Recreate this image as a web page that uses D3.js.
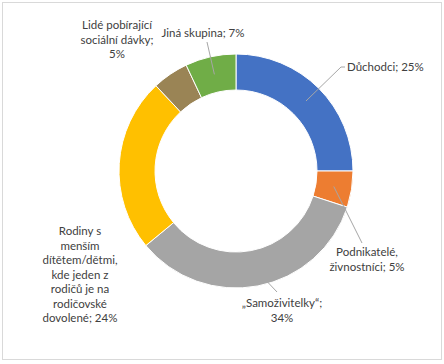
<!DOCTYPE html>
<html>
<head>
<meta charset="utf-8">
<script src="https://cdn.jsdelivr.net/npm/d3@7"></script>
<style>
body { margin: 0; background: #fff; }
text { font-family: Lato, "Noto Sans", sans-serif; font-size: 11.5px; fill: #404040; }
</style>
</head>
<body>
<svg id="chart" width="444" height="364"></svg>
<script>
// data
const categories = ["Důchodci", "Podnikatelé, živnostníci", "„Samoživitelky“",
	"Rodiny s menším dítětem/dětmi, kde jeden z rodičů je na rodičovské dovolené",
	"Lidé pobírající sociální dávky", "Jiná skupina"];
const values = [25, 5, 34, 24, 5, 7];
const colors = ["#4472C4", "#ED7D31", "#A5A5A5", "#FFC000", "#9A8455", "#70AD47"];
const labelLines = [
	["Důchodci; 25%"],
	["Podnikatelé,", "živnostníci; 5%"],
	["„Samoživitelky“;", "34%"],
	["Rodiny s", "menším", "dítětem/dětmi,", "kde jeden z", "rodičů je na", "rodičovské", "dovolené; 24%"],
	["Lidé pobírající", "sociální dávky;", "5%"],
	["Jiná skupina; 7%"]
];

// label placement (first line centre) + leader end, relative to svg
const labelLayout = [
	{x: 347, y: 67, anchor: "start", lead: [341, 67], elbow: [345, 67]},
	{x: 367, y: 252, anchor: "middle", lead: [362, 243]},
	{x: 282, y: 303, anchor: "middle", lead: [277, 292]},
	{x: 80, y: 231, anchor: "middle", lead: null},
	{x: 117, y: 25, anchor: "middle", lead: null},
	{x: 203, y: 33, anchor: "middle", lead: [207, 42]}
];

const svg = d3.select("#chart");
const cx = 236, cy = 171;

svg.append("rect")
.attr("x", 2.5)
.attr("y", 2.5)
.attr("width", 439)
.attr("height", 357)
.attr("fill", "#fff")
.attr("stroke", "#d9d9d9");

let pie = d3.pie().sort(null).value(d => d.value);
let arc = d3.arc().innerRadius(81).outerRadius(117);

let slices = pie(categories.map((c, i) => ({cat: c, value: values[i], i: i})));

let g = svg.append("g").attr("transform", `translate(${cx},${cy})`);

g.selectAll("path")
.data(slices)
.join("path")
.attr("d", arc)
.attr("fill", d => colors[d.data.i])
.attr("stroke", "#fff")
.attr("stroke-width", 1);

// leader lines
slices.forEach((d, i) => {
	let lay = labelLayout[i];
	if (!lay.lead) return;
	let c = arc.centroid(d);
	let pts = [[cx + c[0], cy + c[1]], lay.lead];
	if (lay.elbow) pts.push(lay.elbow);
	svg.append("path")
	.attr("d", d3.line()(pts))
	.attr("fill", "none")
	.attr("stroke", "#a6a6a6")
	.attr("stroke-width", 1);
});

// labels
svg.selectAll(".lbl")
.data(slices)
.join("text")
.attr("class", "lbl")
.attr("text-anchor", d => labelLayout[d.data.i].anchor)
.each(function(d) {
	let lay = labelLayout[d.data.i];
	d3.select(this).selectAll("tspan")
	.data(labelLines[d.data.i])
	.join("tspan")
	.attr("x", lay.x)
	.attr("y", (t, k) => lay.y + k * 14.5)
	.attr("dy", "0.35em")
	.text(t => t);
});
</script>
</body>
</html>
